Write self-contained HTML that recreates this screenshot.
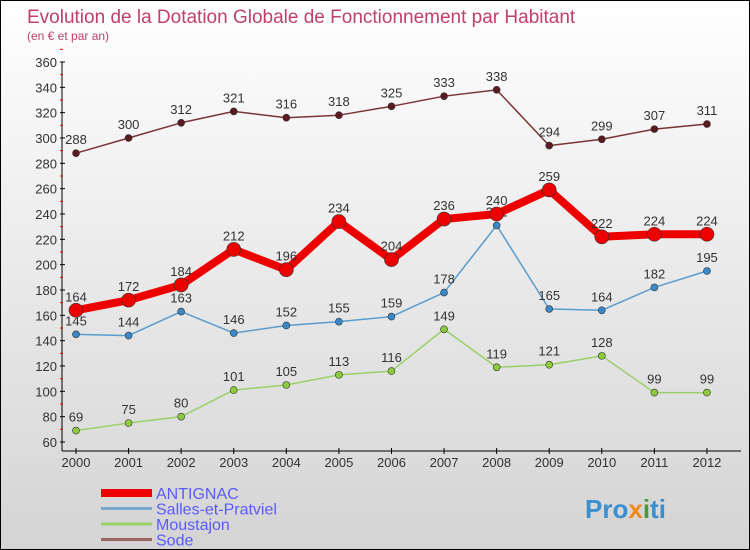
<!DOCTYPE html>
<html><head><meta charset="utf-8"><style>
body{margin:0}
#c{width:750px;height:550px;position:relative;background:linear-gradient(#ffffff,#d4d4d4);box-sizing:border-box;border:1px solid #000;overflow:hidden;font-family:"Liberation Sans",sans-serif}
</style></head><body>
<div id="c">
<svg width="750" height="550" style="position:absolute;left:0;top:0" id="svg">
<text x="26" y="22" font-size="19" fill="#c0406a">Evolution de la Dotation Globale de Fonctionnement par Habitant</text>
<text x="26" y="39" font-size="12" fill="#c0406a">(en € et par an)</text>
<g id="g"></g>
<text x="584" y="517" font-size="26" font-weight="bold" fill="#3a8fd0">Pro<tspan fill="#f08a1c">x</tspan><tspan fill="#4a9a3a">i</tspan>ti</text>
</svg>
</div>
<script>
const years=[2000,2001,2002,2003,2004,2005,2006,2007,2008,2009,2010,2011,2012];
const antignac=[164,172,184,212,196,234,204,236,240,259,222,224,224];
const salles=[145,144,163,146,152,155,159,178,231,165,164,182,195];
const moustajon=[69,75,80,101,105,113,116,149,119,121,128,99,99];
const sode=[288,300,312,321,316,318,325,333,338,294,299,307,311];
const yTicks=[60,80,100,120,140,160,180,200,220,240,260,280,300,320,340,360];
const NS="http://www.w3.org/2000/svg";
const g=document.getElementById('g');
const xS=i=>75+i*52.58;
const yS=v=>441-(v-60)*1.2667;
function el(t,a,p){const e=document.createElementNS(NS,t);for(const k in a)e.setAttribute(k,a[k]);(p||g).appendChild(e);return e;}
let ax=el('line',{x1:61,y1:61,x2:61,y2:450,stroke:'#000'});


let bx=el('line',{x1:61,y1:450,x2:740,y2:450,stroke:'#000'});


yTicks.forEach(v=>{
 el('line',{x1:59,x2:64,y1:yS(v),y2:yS(v),stroke:'#000'});
 el('line',{x1:59,x2:62,y1:yS(v+10),y2:yS(v+10),stroke:'#e00'});
 const t=el('text',{x:56,y:yS(v)+5,'text-anchor':'end','font-size':13,fill:'#333'});t.textContent=v;
 
 
});
years.forEach((y,i)=>{
 el('line',{x1:xS(i),x2:xS(i),y1:447,y2:453,stroke:'#000'});
 const t=el('text',{x:xS(i),y:466,'text-anchor':'middle','font-size':13,fill:'#333'});t.textContent=y;
 
 
});
function series(data,color,dot,w,r,name){
 const p=el('polyline',{points:data.map((v,i)=>xS(i)+','+yS(v)).join(' '),fill:'none',stroke:color,'stroke-width':w,'stroke-linejoin':'round'});
 
 
 data.forEach((v,i)=>{
  const c=el('circle',{cx:xS(i),cy:yS(v),r:r,fill:dot,stroke:'#333','stroke-width':0.6});
  
  
  const t=el('text',{x:xS(i),y:yS(v)-9,'text-anchor':'middle','font-size':13,fill:'#333'});t.textContent=v;
  
  
 });
}
series(moustajon,'#9ad06a','#8ccc3c',1.5,3.5,'moustajon');
series(salles,'#5a9ccc','#3a88c8',1.5,3.5,'salles');
series(sode,'#7a3438','#5a1a20',1.5,3.5,'sode');
series(antignac,'#ee0000','#ee0000',8,7,'antignac');
const leg=[['ANTIGNAC','#ee0000',8],['Salles-et-Pratviel','#7aaad0',3],['Moustajon','#9ad06a',3],['Sode','#9a6460',3]];
leg.forEach((l,i)=>{
 const y=492+i*15.5;
 const ln=el('line',{x1:100,x2:151,y1:y,y2:y,stroke:l[1],'stroke-width':l[2]});
 
 
 const t=el('text',{x:155,y:y+6,'font-size':16,fill:'#5a5aff'});t.textContent=l[0];
 
 
});
</script>
</body></html>
